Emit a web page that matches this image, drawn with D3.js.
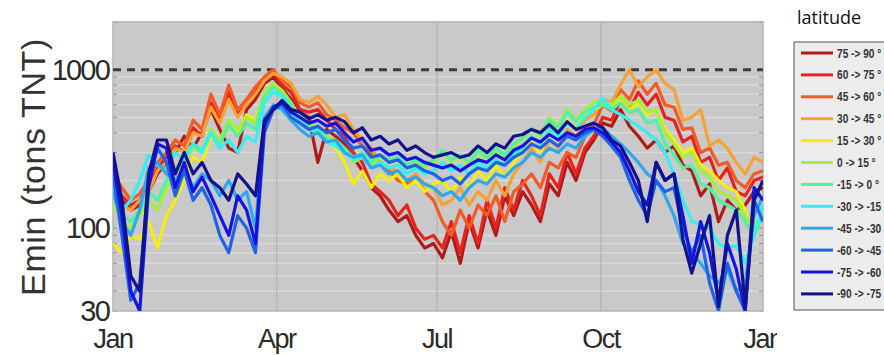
<!DOCTYPE html>
<html>
<head>
<meta charset="utf-8">
<script src="https://cdn.jsdelivr.net/npm/d3@7"></script>
<style>
body { margin: 0; background: #fff; }
svg { display: block; }
</style>
</head>
<body>
<svg id="chart" width="884" height="355"></svg>
<script>
// sample days (day of year)
var days = [0,5,10,15,20,25,30,35,40,45,50,55,60,65,70,75,80,85,90,95,100,105,110,115,120,125,130,135,140,145,150,155,160,165,170,175,180,185,190,195,200,205,210,215,220,225,230,235,240,245,250,255,260,265,270,275,280,285,290,295,300,305,310,315,320,325,330,335,340,345,350,355,360,365];

var monthTicks = [0, 92, 182, 274, 365];
var monthLabels = ["Jan", "Apr", "Jul", "Oct", "Jan"];
var yTicks = [30, 100, 1000];
var threshold = 1000;

var bandNames = ["75 -> 90 °", "60 -> 75 °", "45 -> 60 °", "30 -> 45 °", "15 -> 30 °", "0 -> 15 °",
  "-15 -> 0 °", "-30 -> -15 °", "-45 -> -30 °", "-60 -> -45 °", "-75 -> -60 °", "-90 -> -75 °"];
var bandColors = ["#b01a1a", "#e8231d", "#f25a26", "#f4a236", "#f2ee10", "#a4ee3e",
  "#52f0a0", "#36eef0", "#2ea6f0", "#2062e6", "#1414e0", "#12128c"];

var lat75_90 = [180,150,130,140,170,220,260,300,380,320,
  400,560,420,320,300,560,650,820,900,760,
  650,540,500,260,420,380,340,280,230,180,
  160,130,110,120,90,75,80,65,95,60,
  110,75,130,90,160,120,170,140,110,190,
  160,260,200,300,360,460,440,560,440,380,
  320,360,300,330,250,230,160,190,110,150,
  130,140,170,180];
var lat60_75 = [200,160,140,150,190,240,280,330,300,430,
  380,620,480,720,520,600,720,880,960,800,
  720,560,540,560,480,420,380,300,260,190,
  170,150,120,140,100,85,90,75,110,70,
  120,80,150,100,180,130,200,160,120,220,
  180,300,220,320,380,500,480,650,560,720,
  600,700,500,480,350,380,260,280,200,240,
  170,160,200,210];
var lat45_60 = [220,180,150,165,200,260,300,360,330,480,
  420,700,520,800,560,650,780,900,1000,850,
  780,620,580,620,520,480,430,400,330,300,
  250,230,200,190,210,170,150,110,90,130,
  100,140,120,160,110,170,190,220,180,260,
  240,300,280,380,450,600,550,750,650,850,
  700,820,600,580,420,430,300,320,250,260,
  200,180,220,230];
var lat30_45 = [160,140,130,150,170,230,260,320,300,400,
  380,580,460,650,500,600,700,850,950,900,
  820,650,620,680,600,500,520,420,360,320,
  260,240,230,200,220,190,180,140,150,180,
  140,170,150,200,160,220,260,320,260,360,
  320,420,380,480,520,650,620,800,1000,780,
  900,1000,820,750,480,500,560,330,360,320,
  260,220,280,260];
var lat15_30 = [80,70,90,85,110,75,120,150,200,280,
  260,380,340,450,400,520,480,700,800,720,
  600,480,450,420,360,320,260,190,230,180,
  220,200,220,180,200,170,190,200,170,210,
  180,230,200,250,210,260,300,350,300,420,
  380,480,420,520,560,600,580,640,560,620,
  520,560,420,360,300,320,250,230,200,180,
  170,130,90,120];
var lat0_15 = [140,110,100,120,150,130,180,220,260,320,
  300,420,360,480,420,500,460,720,820,740,
  620,500,460,440,380,360,320,260,280,250,
  280,260,270,240,260,240,260,300,260,280,
  250,300,270,310,280,330,360,420,380,500,
  440,560,480,560,620,640,600,680,600,640,
  540,560,400,340,280,300,230,210,170,160,
  150,120,100,130];
var latM15_0 = [160,120,110,130,170,150,200,240,280,340,
  310,400,340,450,380,460,420,680,780,700,
  600,480,440,420,370,350,320,280,300,260,
  290,270,280,250,270,250,270,310,270,290,
  260,310,280,320,290,340,370,430,390,480,
  430,540,470,540,580,600,560,620,540,560,
  460,480,340,290,240,250,190,180,150,140,
  130,110,90,120];
var latM30_M15 = [180,130,150,200,290,250,230,300,270,340,
  300,400,320,360,300,380,350,620,720,680,
  560,460,420,400,350,330,300,270,280,240,
  260,240,250,220,240,220,230,260,230,250,
  220,260,240,270,250,290,320,380,340,420,
  380,460,420,500,560,660,560,520,480,440,
  400,360,300,220,150,110,105,100,80,75,
  78,60,90,140];
var latM45_M30 = [170,110,90,130,240,260,220,200,240,180,
  220,200,160,200,150,170,100,500,600,560,
  480,420,380,400,350,360,300,280,290,240,
  250,220,230,200,210,190,180,160,170,150,
  180,200,190,220,210,240,260,300,280,320,
  300,340,320,380,420,430,380,340,300,260,
  220,200,160,120,80,70,60,50,45,55,
  40,45,120,160];
var latM60_M45 = [220,90,35,45,200,320,260,160,230,150,
  180,140,90,70,120,100,70,400,560,600,
  500,460,420,440,400,420,360,320,330,280,
  290,260,270,240,250,230,220,200,210,190,
  220,240,230,260,250,280,300,340,320,360,
  330,380,360,400,420,380,330,280,200,150,
  120,200,170,180,100,70,90,45,30,60,
  40,30,150,110];
var latM75_M60 = [260,120,40,30,180,340,320,180,260,170,
  210,160,120,90,160,130,80,450,580,620,
  540,500,460,480,440,460,400,350,370,310,
  320,290,300,270,280,260,250,240,250,230,
  250,270,260,290,270,310,330,370,350,390,
  360,400,380,420,430,400,350,300,230,170,
  140,260,200,220,120,60,110,70,35,80,
  55,30,180,150];
var latM90_M75 = [300,150,50,40,220,360,360,220,300,220,
  260,200,180,150,220,190,160,480,560,640,
  560,540,490,520,480,500,470,400,430,360,
  380,340,360,310,330,300,280,290,300,280,
  290,330,300,340,320,380,390,420,400,450,
  400,470,420,440,460,430,360,330,260,200,
  110,260,200,220,85,52,80,120,32,90,
  130,32,150,200];

var series = [lat75_90, lat60_75, lat45_60, lat30_45, lat15_30, lat0_15,
  latM15_0, latM30_M15, latM45_M30, latM60_M45, latM75_M60, latM90_M75];

var pL = 113, pR = 763, pT = 22, pB = 311;
var svg = d3.select("#chart");

var x = d3.scaleLinear().domain([0, 365]).range([pL, pR]);
var y = d3.scaleLog().domain([30, 2000]).range([pB, pT]);

svg.append("defs").append("clipPath").attr("id", "plotclip")
  .append("rect").attr("x", pL).attr("y", pT).attr("width", pR - pL).attr("height", pB - pT);

// panel
svg.append("rect").attr("x", pL).attr("y", pT).attr("width", pR - pL).attr("height", pB - pT)
  .attr("fill", "#c9c9c9");

// minor horizontal grid
var minors = [40, 50, 60, 70, 80, 90, 200, 300, 400, 500, 600, 700, 800, 900, 2000];
svg.append("g").selectAll("line").data(minors).enter().append("line")
  .attr("x1", pL).attr("x2", pR)
  .attr("y1", function(d) { return y(d); }).attr("y2", function(d) { return y(d); })
  .attr("stroke", "#d9d9d9").attr("stroke-width", 1.5);
svg.append("g").selectAll("line").data(minors.concat(yTicks)).enter().append("line")
  .attr("x1", pL).attr("x2", pL + 4)
  .attr("y1", function(d) { return y(d); }).attr("y2", function(d) { return y(d); })
  .attr("stroke", "#8a8a8a").attr("stroke-width", 1);
svg.append("g").selectAll("line").data(minors.concat(yTicks)).enter().append("line")
  .attr("x1", pR - 4).attr("x2", pR)
  .attr("y1", function(d) { return y(d); }).attr("y2", function(d) { return y(d); })
  .attr("stroke", "#8a8a8a").attr("stroke-width", 1);

// vertical grid at months
svg.append("g").selectAll("line").data(monthTicks.slice(1, 4)).enter().append("line")
  .attr("x1", function(d) { return x(d); }).attr("x2", function(d) { return x(d); })
  .attr("y1", pT).attr("y2", pB)
  .attr("stroke", "#acacac").attr("stroke-width", 1);

svg.append("rect").attr("x", pL).attr("y", pT).attr("width", pR - pL).attr("height", pB - pT)
  .attr("fill", "none").attr("stroke", "#b4b4b4").attr("stroke-width", 1.5);

// threshold
svg.append("line").attr("x1", pL).attr("x2", pR)
  .attr("y1", y(threshold)).attr("y2", y(threshold))
  .attr("stroke", "#3c3c3c").attr("stroke-width", 3).attr("stroke-dasharray", "8,6");

// lines
var line = d3.line()
  .x(function(d, i) { return x(days[i]); })
  .y(function(d) { return y(d); });

var lines = svg.append("g").attr("clip-path", "url(#plotclip)");
series.forEach(function(s, k) {
  lines.append("path").datum(s)
    .attr("d", line)
    .attr("fill", "none")
    .attr("stroke", bandColors[k])
    .attr("stroke-width", 3.2)
    .attr("stroke-linejoin", "round");
});

// axis labels
svg.append("g").selectAll("text").data(monthTicks).enter().append("text")
  .attr("x", function(d) { return x(d); })
  .attr("y", 348)
  .attr("text-anchor", "middle")
  .style("font-family", "Liberation Sans, Arial, sans-serif")
  .style("font-size", "27px")
  .style("letter-spacing", "-1.5px")
  .attr("fill", "#2a2a2a")
  .text(function(d, i) { return monthLabels[i]; });

svg.append("g").selectAll("text").data(yTicks).enter().append("text")
  .attr("x", 109)
  .attr("y", function(d) { return y(d) + 10; })
  .attr("text-anchor", "end")
  .style("font-family", "Liberation Sans, Arial, sans-serif")
  .style("font-size", "29px")
  .style("letter-spacing", "-1.8px")
  .attr("fill", "#2a2a2a")
  .text(function(d) { return d; });

svg.append("text")
  .attr("transform", "translate(45,167) rotate(-90)")
  .attr("text-anchor", "middle")
  .style("font-family", "Liberation Sans, Arial, sans-serif")
  .style("font-size", "34px")
  .style("letter-spacing", "0.6px")
  .attr("fill", "#333")
  .text("Emin (tons TNT)");

// cover right side, legend
svg.append("rect").attr("x", 777).attr("y", 0).attr("width", 107).attr("height", 355).attr("fill", "#fff");

svg.append("text").attr("x", 797).attr("y", 24)
  .style("font-family", "Open Sans, sans-serif")
  .style("font-size", "18px")
  .attr("fill", "#111")
  .text("latitude");

var legend = svg.append("g");
legend.append("rect").attr("x", 794).attr("y", 42).attr("width", 120).attr("height", 268)
  .attr("fill", "#ececec").attr("stroke", "#555").attr("stroke-width", 1);
var rows = legend.selectAll("g.row").data(bandNames).enter().append("g")
  .attr("transform", function(d, i) { return "translate(0," + (53 + i * 21.9) + ")"; });
rows.append("line").attr("x1", 801).attr("x2", 833).attr("y1", 0).attr("y2", 0)
  .attr("stroke", function(d, i) { return bandColors[i]; }).attr("stroke-width", 3);
rows.append("text")
  .attr("transform", "translate(837,4.5) scale(0.78,1)")
  .style("font-family", "Liberation Sans, Arial, sans-serif")
  .style("font-size", "13px")
  .style("font-weight", "bold")
  .attr("fill", "#333")
  .text(function(d) { return d; });
</script>
</body>
</html>
